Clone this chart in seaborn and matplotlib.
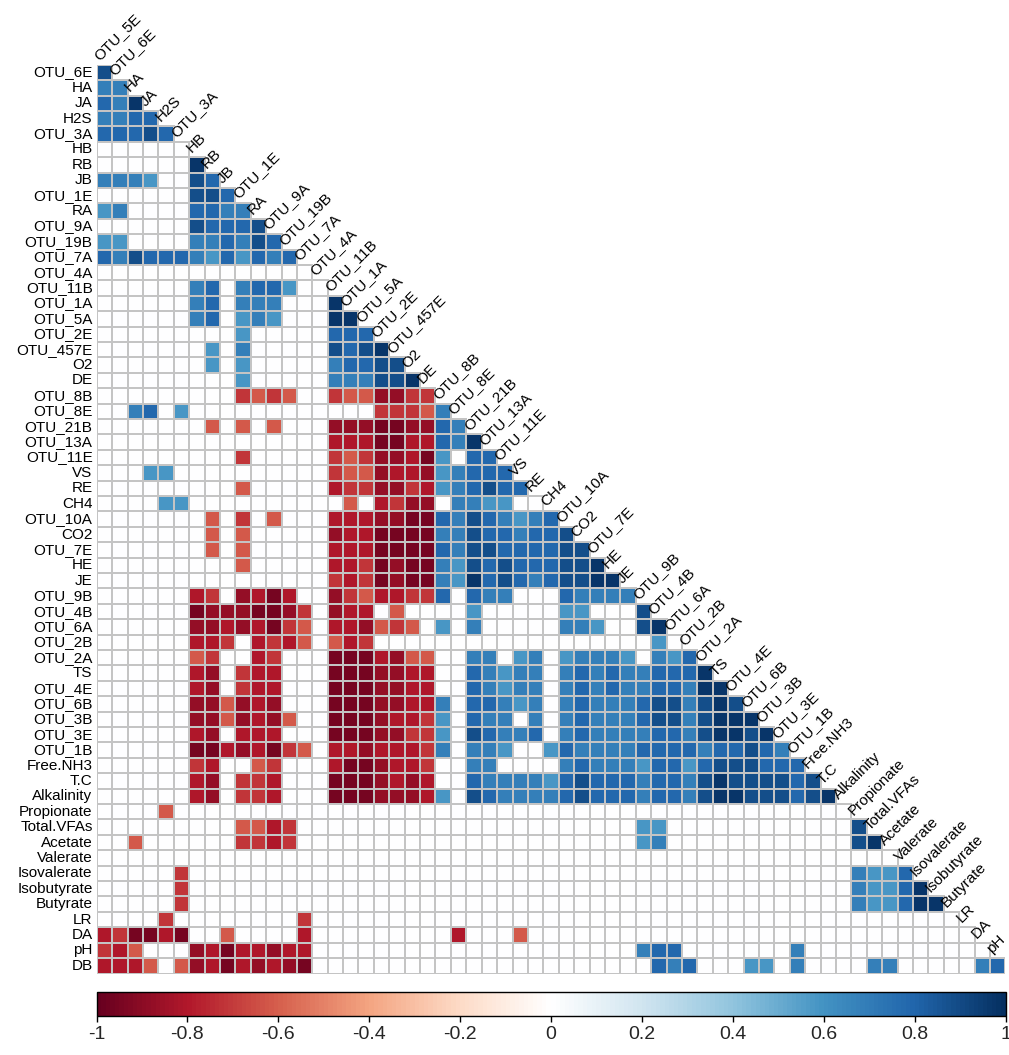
import numpy as np
import pandas as pd
import matplotlib
matplotlib.use("Agg")
import matplotlib.pyplot as plt
import seaborn as sns
from matplotlib.colors import LinearSegmentedColormap, to_rgba

# ---------------- data ----------------
variables = ["OTU_5E", "OTU_6E", "HA", "JA", "H2S", "OTU_3A", "HB", "RB", "JB", "OTU_1E",
             "RA", "OTU_9A", "OTU_19B", "OTU_7A", "OTU_4A", "OTU_11B", "OTU_1A", "OTU_5A",
             "OTU_2E", "OTU_457E", "O2", "DE", "OTU_8B", "OTU_8E", "OTU_21B", "OTU_13A",
             "OTU_11E", "VS", "RE", "CH4", "OTU_10A", "CO2", "OTU_7E", "HE", "JE", "OTU_9B",
             "OTU_4B", "OTU_6A", "OTU_2B", "OTU_2A", "TS", "OTU_4E", "OTU_6B", "OTU_3B",
             "OTU_3E", "OTU_1B", "Free.NH3", "T.C", "Alkalinity", "Propionate", "Total.VFAs",
             "Acetate", "Valerate", "Isovalerate", "Isobutyrate", "Butyrate", "LR", "DA",
             "pH", "DB"]

# correlation levels ('.' = not significant -> blank)
level_values = {".": 0.0, "l": 0.58, "m": 0.68, "b": 0.78, "B": 0.88, "D": 0.97,
                "o": -0.62, "n": -0.72, "q": -0.80, "Q": -0.88, "R": -0.96}

# dense rows (row = variable k, columns = variables 1..k-1)
dense_rows = {
    "OTU_6E": "B",
    "HA": "mm",
    "JA": "bmD",
    "H2S": "mmbb",
    "OTU_3A": "bbbBb",
    "HB": "......",
    "RB": "......D",
    "JB": "mmml..Bb",
    "OTU_1E": "......BBb",
    "RA": "lm....bbmm",
    "OTU_9A": "......BbbbB",
    "OTU_19B": "ll....mmbmBb",
    "OTU_7A": "bmBbbbmlblbmb",
    "OTU_4A": "..............",
    "OTU_11B": "......mb.mbbl..",
    "OTU_1A": "......mb.mmm...D",
    "OTU_5A": "......mb.lml...DD",
    "OTU_2E": ".........l.....bbb",
    "OTU_457E": ".......l.m.....BbBD",
    "O2": ".......l.l.....mbbBB",
    "DE": ".........l.....mmmBBD",
    "OTU_8B": ".........nono..nooQQnn",
    "OTU_8E": "..mb.l........." + "...nnnom",
    "OTU_21B": ".......o.o.o..." + "QQQRRQQbm",
    "OTU_13A": "..............." + "qqqRRqqbmD",
    "OTU_11E": ".........n....." + "nonQQqRl.bb",
    "VS": "...ll.........." + "nooQqqQlmbbb",
    "RE": ".........o....." + "qnnQQnqlmbBbb",
    "CH4": "....ll........." + ".o.qnQQ.mmll..",
    "OTU_10A": ".......o.n.o..." + "qqqQQRRbmBbmlmb",
    "CO2": ".......o.o....." + "QqqRRRRmmBbbmbbB",
    "OTU_7E": ".......o.o....." + "qqqRRRRbmBBbbbbBB",
    "HE": ".........o....." + "q" + "qnRQRRmlBbBbbbBBD",
    "JE": "..............." + "n" + "qnRQRRmlDbBbmbBBD" + "D",
    "OTU_9B": "......qn.QqRq..Q" + "noqqnnb.bmm...bmm" + "mm",
    "OTU_4B": "......RQQQRRQn.Q" + "qq.o....l.....ll." + "..B",
    "OTU_6A": "......QQqQqRno.q" + "qQono.l.m.....mml" + "..BD",
    "OTU_2B": "......qqn.qnqo.o" + "qn..............." + "...l.",
    "OTU_2A": "......on..qn...R" + "RRqQoo..mm.lm.lmm" + "ml.mlb",
    "TS": "......qQ.nqq...R" + "RRQQqq..bmlmm.mbm" + "bmmbbbD",
    "OTU_4E": "......qQ.nqq...R" + "RRQQqq..bmlmm.mbm" + "bmmbbmDD",
    "OTU_6B": "......QQoQqQ...R" + "RRQQqqm.bbmlm.mbm" + "mmbBBmBDB",
    "OTU_3B": "......QQoQqQo..R" + "RRQqqnl.bmm.m.mbm" + "mmbBBmBDDD",
    "OTU_3E": "......qQ.qqq...R" + "RRQQnnl.Bbmmb.mbm" + "mmmbbmBDDBD",
    "OTU_1B": "......RRqQqRno.q" + "qQqqqnm.mml..lbmm" + "mmbbbbmbbBbm",
    "Free.NH3": "......nq..on...q" + "RRQqqn..mm....mbm" + "mmlbblbBBBbbb",
    "T.C": "......qQ.nnq...R" + "RRQqQq..bmmmmlbBb" + "bbmbbmBDBBBBbB",
    "Alkalinity": "......qQ.nnq...R" + "RRQQQql.BbmmmmbBb" + "bbmbbmBDDBBBbBD",
}

# sparse rows (only significant cells, keyed by column variable)
sparse_rows = {
    "Propionate": {"H2S": "o"},
    "Total.VFAs": {"OTU_1E": "o", "RA": "o", "OTU_9A": "q", "OTU_19B": "n",
                   "OTU_9B": "l", "OTU_4B": "l", "Propionate": "B"},
    "Acetate": {"HA": "o", "OTU_1E": "n", "RA": "n", "OTU_9A": "q", "OTU_19B": "n",
                "OTU_9B": "l", "OTU_4B": "m", "Propionate": "B", "Total.VFAs": "D"},
    "Valerate": {},
    "Isovalerate": {"OTU_3A": "n", "Propionate": "m", "Total.VFAs": "l", "Acetate": "l",
                    "Valerate": "b"},
    "Isobutyrate": {"OTU_3A": "n", "Propionate": "m", "Total.VFAs": "l", "Acetate": "l",
                    "Valerate": "b", "Isovalerate": "D"},
    "Butyrate": {"OTU_3A": "n", "Propionate": "m", "Total.VFAs": "l", "Acetate": "l",
                 "Valerate": "b", "Isovalerate": "D", "Isobutyrate": "D"},
    "LR": {"H2S": "n", "OTU_7A": "n"},
    "DA": {"OTU_5E": "q", "OTU_6E": "n", "HA": "R", "JA": "R", "H2S": "q", "OTU_3A": "R",
           "JB": "o", "OTU_7A": "q", "OTU_8E": "q", "VS": "o"},
    "pH": {"OTU_5E": "n", "OTU_6E": "q", "HA": "o", "HB": "Q", "RB": "q", "JB": "R",
           "OTU_1E": "q", "RA": "q", "OTU_9A": "Q", "OTU_19B": "q", "OTU_7A": "q",
           "OTU_9B": "m", "OTU_4B": "b", "OTU_6A": "b", "OTU_1B": "m"},
    "DB": {"OTU_5E": "q", "OTU_6E": "q", "HA": "q", "JA": "o", "OTU_3A": "o", "HB": "Q",
           "RB": "q", "JB": "R", "OTU_1E": "q", "RA": "Q", "OTU_9A": "q", "OTU_19B": "Q",
           "OTU_7A": "R", "OTU_4B": "b", "OTU_6A": "m", "OTU_2B": "b", "OTU_6B": "l",
           "OTU_3B": "l", "OTU_1B": "m", "Total.VFAs": "m", "Acetate": "m", "DA": "m",
           "pH": "b"},
}

cbar_ticks = [-1, -0.8, -0.6, -0.4, -0.2, 0, 0.2, 0.4, 0.6, 0.8, 1]
cbar_labels = ["-1", "-0.8", "-0.6", "-0.4", "-0.2", "0", "0.2", "0.4", "0.6", "0.8", "1"]

corr_colors = ["#67001F", "#B2182B", "#D6604D", "#F4A582", "#FDDBC7", "#FFFFFF",
               "#D1E5F0", "#92C5DE", "#4393C3", "#2166AC", "#053061"]

# ---------------- build matrix ----------------
row_names = variables[1:]
col_names = variables[:-1]
n = len(row_names)
mat = np.full((n, n), np.nan)
for i, rname in enumerate(row_names):
    if rname in dense_rows:
        s = dense_rows[rname]
        if len(s) != i + 1:
            print("length mismatch", rname, len(s), i + 1)
        for j, ch in enumerate(s[: i + 1]):
            mat[i, j] = level_values[ch]
    else:
        for j in range(i + 1):
            mat[i, j] = 0.0
        for cname, ch in sparse_rows[rname].items():
            mat[i, col_names.index(cname)] = level_values[ch]
df = pd.DataFrame(mat, index=row_names, columns=col_names)
mask = np.triu(np.ones((n, n), dtype=bool), k=1)

# ---------------- plot ----------------
sns.set_style("white")
plt.rcParams["font.family"] = ["Liberation Sans", "DejaVu Sans"]

W, H = 1009, 1055
fig = plt.figure(figsize=(W / 100, H / 100), dpi=100)
ax = fig.add_axes([96.7 / W, 1 - 973.5 / H, 908.6 / W, 908.8 / H])
cax = fig.add_axes([96.5 / W, 1 - 1016 / H, 909 / W, 24 / H])

cmap = LinearSegmentedColormap.from_list("corrRdBu", corr_colors, N=200)

grid_col = "#C4C4C4"
sns.heatmap(df, mask=mask, cmap=cmap, vmin=-1, vmax=1, ax=ax, cbar_ax=cax,
            linewidths=1.1, linecolor=grid_col,
            xticklabels=False, yticklabels=True,
            cbar_kws={"orientation": "horizontal", "ticks": cbar_ticks})

# grid edges only on the lower triangle
mesh = ax.collections[0]
edge = np.array([to_rgba(grid_col) if not m else (0, 0, 0, 0) for m in mask.ravel()])
mesh.set_edgecolor(edge)

ax.set_xlabel("")
ax.set_ylabel("")
ax.tick_params(axis="y", length=0, pad=3)
ax.set_yticks(np.arange(n) + 0.5)
ax.set_yticklabels(row_names, fontsize=11, color="black")
for sp in ax.spines.values():
    sp.set_visible(False)

# diagonal column labels
for j, cname in enumerate(col_names):
    ax.text(j + 0.3, j - 0.12, cname, rotation=45, ha="left", va="bottom",
            rotation_mode="anchor", fontsize=11, color="black", clip_on=False)

# colorbar styling
cax.set_xticks(cbar_ticks)
cax.set_xticklabels(cbar_labels, fontsize=14)
cax.tick_params(axis="x", length=4, width=1, color="black", pad=3)
cb = mesh.colorbar
cb.outline.set_edgecolor("black")
cb.outline.set_linewidth(1.0)

fig.savefig("out.png", dpi=100, facecolor="white")
